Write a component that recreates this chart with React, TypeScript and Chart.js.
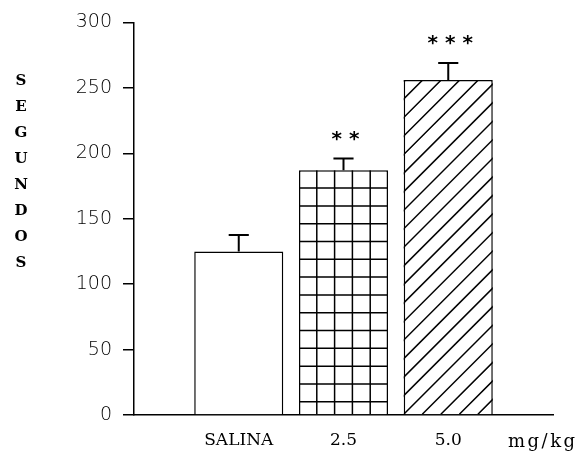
import { useEffect, useRef } from "react";
import { Chart, registerables } from "chart.js";

Chart.register(...registerables);

const categories = ["", "SALINA", "2.5", "5.0", ""];
const means: (number | null)[] = [null, 125, 187, 256, null];
const sems: (number | null)[] = [null, 12.5, 9, 13, null];
const stars = ["", "", "**", "***", ""];
const fills = ["", "plain", "grid", "hatch", ""];
const yTitle = "SEGUNDOS";
const unitLabel = "mg/kg";

const overlay = {
  id: "overlay",
  afterDatasetsDraw(chart: any) {
    const ctx = chart.ctx as CanvasRenderingContext2D;
    const meta = chart.getDatasetMeta(0);
    const ys = chart.scales.y;
    meta.data.forEach((bar: any, i: number) => {
      const v = means[i];
      if (v == null) return;
      const { x, y, base, width } = bar.getProps(["x", "y", "base", "width"], true);
      const left = x - width / 2;
      const right = x + width / 2;
      const h = base - y;
      ctx.save();
      ctx.beginPath();
      ctx.rect(left, y, width, h);
      ctx.clip();
      ctx.strokeStyle = "#000";
      ctx.lineWidth = 1.5;
      ctx.beginPath();
      if (fills[i] === "grid") {
        const s = width / 5;
        for (let k = 1; k < 5; k++) {
          ctx.moveTo(left + k * s, y);
          ctx.lineTo(left + k * s, base);
        }
        for (let yy = y + s; yy < base; yy += s) {
          ctx.moveTo(left, yy);
          ctx.lineTo(right, yy);
        }
      } else if (fills[i] === "hatch") {
        const d = width / 4.8;
        const n = Math.ceil(h / d);
        for (let x0 = left - n * d; x0 < right; x0 += d) {
          ctx.moveTo(x0, base);
          ctx.lineTo(x0 + h, y);
        }
      }
      ctx.stroke();
      ctx.restore();

      const e = sems[i] ?? 0;
      const top = ys.getPixelForValue(v + e);
      const cap = width * 0.113;
      ctx.save();
      ctx.strokeStyle = "#000";
      ctx.lineWidth = 2;
      ctx.beginPath();
      ctx.moveTo(x, y);
      ctx.lineTo(x, top);
      ctx.moveTo(x - cap, top);
      ctx.lineTo(x + cap, top);
      ctx.stroke();
      if (stars[i]) {
        ctx.fillStyle = "#000";
        ctx.font = "bold 20px 'DejaVu Sans'";
        ctx.textAlign = "center";
        ctx.textBaseline = "middle";
        ctx.fillText(stars[i].split("").join(" "), x + 2, top - 19);
      }
      ctx.restore();
    });
  },
  afterDraw(chart: any) {
    const ctx = chart.ctx as CanvasRenderingContext2D;
    const area = chart.chartArea;
    const xs = chart.scales.x;
    ctx.save();
    ctx.fillStyle = "#000";
    ctx.font = "bold 15px 'DejaVu Serif'";
    ctx.textAlign = "center";
    ctx.textBaseline = "middle";
    yTitle.split("").forEach((ch, k) => {
      ctx.fillText(ch, 21, area.top + 59 + k * 26);
    });
    ctx.font = "18px 'DejaVu Serif'";
    ctx.textAlign = "left";
    ctx.textBaseline = "top";
    (ctx as any).letterSpacing = "2.5px";
    ctx.fillText(unitLabel, xs.right - 45, xs.top + 18);
    ctx.restore();
  },
};

export default function App() {
  const ref = useRef<HTMLCanvasElement | null>(null);
  useEffect(() => {
    if (!ref.current) return;
    const chart = new Chart(ref.current, {
      type: "bar",
      data: {
        labels: categories,
        datasets: [
          {
            data: means as any,
            backgroundColor: "#fff",
            borderColor: "#000",
            borderWidth: 1.5,
            categoryPercentage: 1,
            barPercentage: 0.85,
          },
        ],
      },
      options: {
        animation: false,
        responsive: false,
        devicePixelRatio: 1,
        layout: { padding: { top: 21, right: 31, left: 0, bottom: 0 } },
        plugins: { legend: { display: false }, tooltip: { enabled: false } },
        scales: {
          x: {
            type: "category",
            offset: false,
            grid: { display: false, drawTicks: false },
            border: { display: true, color: "#000", width: 1.5 },
            ticks: {
              color: "#000",
              font: { family: "'DejaVu Serif'", size: 17 },
              padding: 15,
              autoSkip: false,
              maxRotation: 0,
            },
            afterFit: (s: any) => {
              s.height = 36;
            },
          },
          y: {
            min: 0,
            max: 300,
            ticks: {
              stepSize: 50,
              color: "#000",
              font: { family: "'DejaVu Sans'", size: 19, weight: 200 as any },
              padding: 11,
            },
            grid: {
              display: true,
              drawOnChartArea: false,
              drawTicks: true,
              tickLength: 11,
              color: "#000",
              lineWidth: 1.5,
            },
            border: { display: true, color: "#000", width: 1.5 },
            afterFit: (s: any) => {
              s.width = 134;
            },
          },
        },
      },
      plugins: [overlay],
    });
    return () => chart.destroy();
  }, []);
  return (
    <div style={{ position: "absolute", left: 0, top: 0, width: 584, height: 451, background: "#fff" }}>
      <canvas ref={ref} width={584} height={451} style={{ display: "block" }} />
    </div>
  );
}
